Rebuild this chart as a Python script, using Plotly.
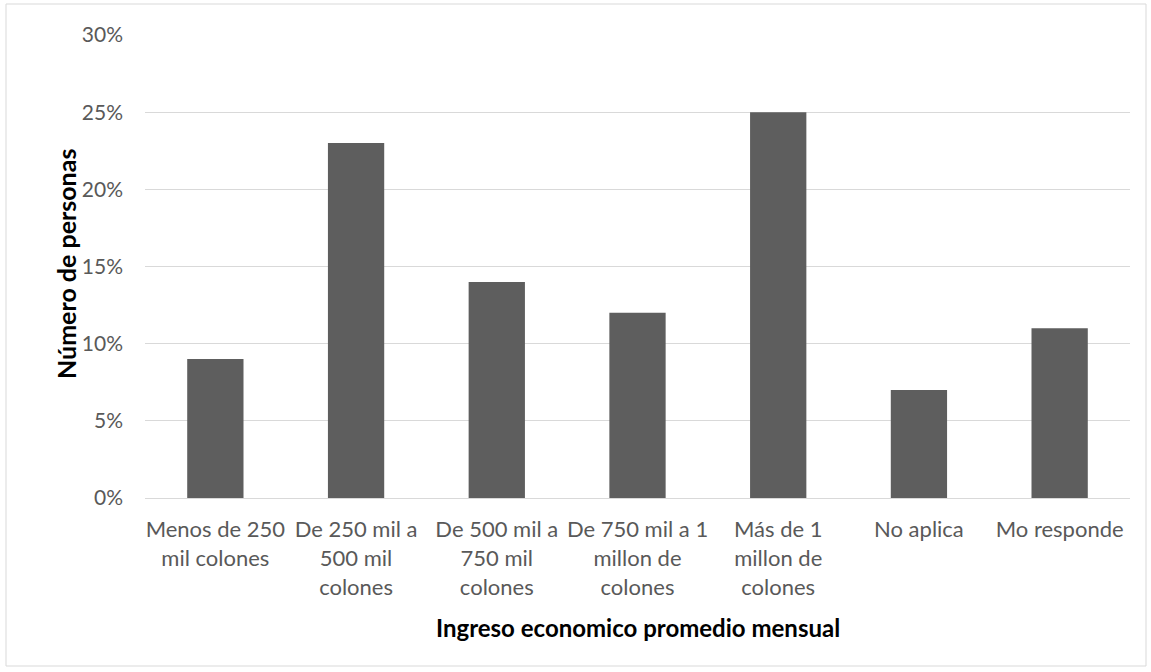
import plotly.graph_objects as go

categories = [
    "Menos de 250<br>mil colones",
    "De 250 mil a<br>500 mil<br>colones",
    "De 500 mil a<br>750 mil<br>colones",
    "De 750 mil a 1<br>millon de<br>colones",
    "Más de 1<br>millon de<br>colones",
    "No aplica",
    "Mo responde",
]
values = [0.09, 0.23, 0.14, 0.12, 0.25, 0.07, 0.11]
y_ticks = [0, 0.05, 0.10, 0.15, 0.20, 0.25, 0.30]
y_tick_labels = ["0%", "5%", "10%", "15%", "20%", "25%", "30%"]

W, H = 1151, 672
L, R, T, B = 145, 21, 35, 174

fig = go.Figure(go.Bar(x=categories, y=values, marker_color="#5e5e5e",
                       marker_line_width=0))

fig.update_layout(
    width=W, height=H,
    margin=dict(l=L, r=R, t=T, b=B),
    paper_bgcolor="white", plot_bgcolor="white",
    bargap=0.6,
    font=dict(family="Lato, Carlito, sans-serif", size=21, color="#595959"),
    showlegend=False,
)
fig.update_xaxes(
    showgrid=False, showline=True, linecolor="#d9d9d9", linewidth=1,
    ticks="", tickangle=0, tickfont=dict(size=22, color="#595959"),
    ticklabelstandoff=12,
)
fig.update_yaxes(
    range=[0, 0.30], tickvals=y_ticks, ticktext=y_tick_labels,
    showgrid=True, gridcolor="#d9d9d9", gridwidth=1, zeroline=False,
    ticks="", tickfont=dict(size=21, color="#595959"), ticklabelstandoff=21,
)

pw, ph = W - L - R, H - T - B
fig.add_annotation(text="<b>Ingreso economico promedio mensual</b>",
                   xref="paper", yref="paper", x=0.5, y=(498 - 627) / ph,
                   xanchor="center", yanchor="middle", showarrow=False,
                   font=dict(size=24, color="black"))
fig.add_annotation(text="<b>Número de personas</b>",
                   xref="paper", yref="paper", x=(66 - L) / pw, y=(498 - 264) / ph,
                   xanchor="center", yanchor="middle", showarrow=False, textangle=-90,
                   font=dict(size=25, color="black"))

x0 = (6 - L) / pw
x1 = (W - 5 - L) / pw
y0 = (H - 666 - B) / ph
y1 = (H - 4 - B) / ph
fig.add_shape(type="rect", xref="paper", yref="paper", x0=x0, x1=x1, y0=y0, y1=y1,
              line=dict(color="#d9d9d9", width=1), layer="below")

fig.write_html("out.html", config={"displayModeBar": False},
               post_script="document.body.style.margin='0';document.body.style.overflow='hidden';")
